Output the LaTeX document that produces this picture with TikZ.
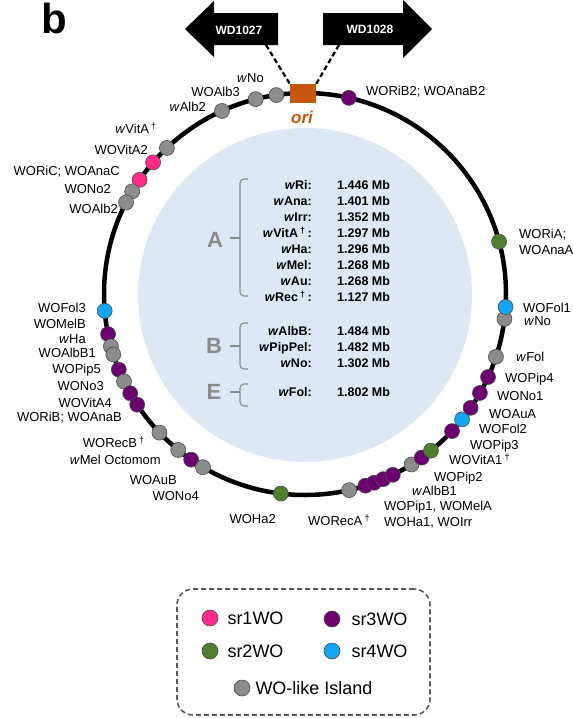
\documentclass[tikz,border=0pt]{standalone}
\usepackage{fontspec}
\setmainfont{Liberation Sans}
\usetikzlibrary{positioning}
\definecolor{sr1}{HTML}{FF2A8C}
\definecolor{sr2}{HTML}{4F7F2E}
\definecolor{sr3}{HTML}{6B006E}
\definecolor{sr4}{HTML}{14A5F5}
\definecolor{island}{HTML}{8C8C8C}
\definecolor{ori-orange}{HTML}{C8570E}
\definecolor{disc-blue}{HTML}{DEE8F4}
\definecolor{clade-gray}{HTML}{8A8A8A}
\newcommand{\wsp}{\textit{w}}
\tikzset{
    genome/.style = {draw=black, line width=4.5pt},
    wo-dot/.style = {circle, draw=black!70, line width=0.6pt, inner sep=0pt, minimum size=15pt},
    sr1-dot/.style = {wo-dot, fill=sr1},
    sr2-dot/.style = {wo-dot, fill=sr2},
    sr3-dot/.style = {wo-dot, fill=sr3},
    sr4-dot/.style = {wo-dot, fill=sr4},
    island-dot/.style = {wo-dot, fill=island},
    site-label/.style = {font=\fontsize{13}{16}\selectfont, inner sep=1pt, text height=9.3pt, text depth=0pt},
    site-left/.style = {site-label, anchor=east},
    site-right/.style = {site-label, anchor=west, align=left},
    size-name/.style = {font=\fontsize{12.5}{15}\selectfont\bfseries, inner sep=1pt, text height=9pt, text depth=0pt, anchor=east},
    size-value/.style = {size-name, anchor=west},
    clade-letter/.style = {font=\fontsize{22}{24}\selectfont\bfseries, text=clade-gray, inner sep=0pt},
    clade-brace/.style = {draw=clade-gray, line width=1.1pt, rounded corners=4pt},
    gene-label/.style = {font=\fontsize{12}{14}\selectfont\bfseries, text=white, inner sep=0pt},
    ori-link/.style = {draw=black, line width=2.2pt, dash pattern=on 5pt off 3pt},
    legend-box/.style = {draw=black!65, line width=1.6pt, dash pattern=on 5pt off 3pt, rounded corners=16pt, minimum width=253pt, minimum height=126pt},
    legend-dot/.style = {wo-dot, minimum size=16pt},
    legend-label/.style = {font=\fontsize{18}{20}\selectfont, inner sep=1pt},
}

\begin{document}
\begin{tikzpicture}[x=1pt, y=-1pt]
\path[use as bounding box, fill=white] (0,0) rectangle (573,718);
\node[font=\fontsize{42}{42}\selectfont\bfseries, inner sep=0pt, anchor=base west] (panel) at (41,33) {b};

% genome ring
\coordinate (c) at (305,294);
\fill[disc-blue] (305,295) circle [radius=167];
\draw[genome] (c) circle [radius=201];

% gene arrows and origin
\fill (278,13) -- (214,13) -- (214,1) -- (185,29) -- (214,57) -- (214,45) -- (278,45) -- cycle;
\fill (323,13) -- (403,13) -- (403,0) -- (432,29) -- (403,58) -- (403,45) -- (323,45) -- cycle;
\node[gene-label] (wd1027) at (239,30) {WD1027};
\node[gene-label] (wd1028) at (370,29) {WD1028};
\node[fill=ori-orange, minimum width=26pt, minimum height=19pt, inner sep=0pt] (ori) at (303,93.5) {};
\node[font=\fontsize{17}{18}\selectfont\bfseries\itshape, text=ori-orange, inner sep=0pt] (ori-label) at (302,117) {ori};
\coordinate (wd1027-foot) at (266,45);
\coordinate (wd1028-foot) at (339,45);
\draw[ori-link] (wd1027-foot) -- (ori.north west);
\draw[ori-link] (wd1028-foot) -- (ori.north east);

% WO sites
\node[sr3-dot] (woribb2) at ([shift={(-77.4:201)}]c) {};
\node[island-dot] (wno-a) at ([shift={(-98.2:201)}]c) {};
\node[island-dot] (woalb3) at ([shift={(-104.2:201)}]c) {};
\node[island-dot] (walb2) at ([shift={(-114.4:201)}]c) {};
\node[island-dot] (wvita) at ([shift={(-133.4:201)}]c) {};
\node[sr1-dot] (wovita2) at ([shift={(-139.1:201)}]c) {};
\node[sr1-dot] (woric) at ([shift={(-145.4:201)}]c) {};
\node[island-dot] (wono2) at ([shift={(-149.3:201)}]c) {};
\node[island-dot] (woalb2) at ([shift={(-152.9:201)}]c) {};
\node[sr4-dot] (wofol3) at ([shift={(175.2:201)}]c) {};
\node[sr3-dot] (womelb) at ([shift={(168.5:201)}]c) {};
\node[island-dot] (wha) at ([shift={(164.9:201)}]c) {};
\node[island-dot] (woalbb1) at ([shift={(162.5:201)}]c) {};
\node[sr3-dot] (wopip5) at ([shift={(157.9:201)}]c) {};
\node[island-dot] (wono3) at ([shift={(154.2:201)}]c) {};
\node[sr3-dot] (wovita4) at ([shift={(150.4:201)}]c) {};
\node[sr3-dot] (worib) at ([shift={(146.6:201)}]c) {};
\node[island-dot] (worecb) at ([shift={(136.4:201)}]c) {};
\node[island-dot] (wmel-oct) at ([shift={(129.1:201)}]c) {};
\node[sr3-dot] (woaub) at ([shift={(124.5:201)}]c) {};
\node[island-dot] (wono4) at ([shift={(120.5:201)}]c) {};
\node[sr2-dot] (woha2) at ([shift={(96.9:201)}]c) {};
\node[island-dot] (woreca) at ([shift={(77.3:201)}]c) {};
\node[sr3-dot] (woha1) at ([shift={(72.5:201)}]c) {};
\node[sr3-dot] (woirr) at ([shift={(69.9:201)}]c) {};
\node[sr3-dot] (wopip1) at ([shift={(67.1:201)}]c) {};
\node[sr3-dot] (womela) at ([shift={(64.1:201)}]c) {};
\node[island-dot] (walbb1) at ([shift={(58.0:201)}]c) {};
\node[sr3-dot] (wopip2) at ([shift={(54.5:201)}]c) {};
\node[sr2-dot] (wovita1) at ([shift={(51.2:201)}]c) {};
\node[sr3-dot] (wopip3) at ([shift={(43.0:201)}]c) {};
\node[sr4-dot] (wofol2) at ([shift={(38.6:201)}]c) {};
\node[sr3-dot] (woaua) at ([shift={(34.5:201)}]c) {};
\node[sr3-dot] (wono1) at ([shift={(29.5:201)}]c) {};
\node[sr3-dot] (wopip4) at ([shift={(24.4:201)}]c) {};
\node[island-dot] (wfol) at ([shift={(18.2:201)}]c) {};
\node[island-dot] (wno-b) at ([shift={(7.1:201)}]c) {};
\node[sr4-dot] (wofol1) at ([shift={(3.7:201)}]c) {};
\node[sr2-dot] (woria) at ([shift={(-15.1:201)}]c) {};

% site labels
\node[site-left] (l-wno-a) at (265,78) {\wsp No};
\node[site-left] (l-woalb3) at (241,92) {WOAlb3};
\node[site-left] (l-walb2) at (207,107) {\wsp Alb2};
\node[site-left] (l-wvita) at (158,129) {\wsp VitA\,\textsuperscript{†}};
\node[site-left] (l-wovita2) at (149,150) {WOVitA2};
\node[site-left] (l-woric) at (121,171) {WORiC; WOAnaC};
\node[site-left] (l-wono2) at (112,189) {WONo2};
\node[site-left] (l-woalb2) at (119,209) {WOAlb2};
\node[site-left] (l-wofol3) at (87,308) {WOFol3};
\node[site-left] (l-womelb) at (87,324) {WOMelB};
\node[site-left] (l-wha) at (87,339) {\wsp Ha};
\node[site-left] (l-woalbb1) at (97,353) {WOAlbB1};
\node[site-left] (l-wopip5) at (102,369) {WOPip5};
\node[site-left] (l-wono3) at (105,386) {WONo3};
\node[site-left] (l-wovita4) at (113,403) {WOVitA4};
\node[site-left] (l-worib) at (123,417) {WORiB; WOAnaB};
\node[site-left] (l-worecb) at (146,443) {WORecB\,\textsuperscript{†}};
\node[site-left] (l-wmel-oct) at (162,460) {\wsp Mel Octomom};
\node[site-left] (l-woaub) at (178,480) {WOAuB};
\node[site-left] (l-wono4) at (200,496) {WONo4};
\node[site-left] (l-woha2) at (277,519) {WOHa2};
\node[site-right] (l-woreca) at (307,521) {WORecA\,\textsuperscript{†}};
\node[site-right] (l-woribb2) at (365,91) {WORiB2; WOAnaB2};
\node[site-right, text height=, text depth=] (l-woria) at (518,242) {WORiA;\\WOAnaA};
\node[site-right] (l-wofol1) at (522,308) {WOFol1};
\node[site-right] (l-wno-b) at (523,321) {\wsp No};
\node[site-right] (l-wfol) at (515,357) {\wsp Fol};
\node[site-right] (l-wopip4) at (504,378) {WOPip4};
\node[site-right] (l-wono1) at (496,396) {WONo1};
\node[site-right] (l-woaua) at (488,414) {WOAuA};
\node[site-right] (l-wofol2) at (478,429) {WOFol2};
\node[site-right] (l-wopip3) at (469,445) {WOPip3};
\node[site-right] (l-wovita1) at (448,460) {WOVitA1\,\textsuperscript{†}};
\node[site-right] (l-wopip2) at (433,477) {WOPip2};
\node[site-right] (l-walbb1) at (411,491) {\wsp AlbB1};
\node[site-right] (l-wopip1) at (383,506) {WOPip1, WOMelA};
\node[site-right] (l-woha1) at (383,522) {WOHa1, WOIrr};

% genome sizes
\node[size-name] (n-ri) at (313,185) {\wsp Ri:};
\node[size-value] (v-ri) at (336,185) {1.446 Mb};
\node[size-name] (n-ana) at (313,201) {\wsp Ana:};
\node[size-value] (v-ana) at (336,201) {1.401 Mb};
\node[size-name] (n-irr) at (313,217) {\wsp Irr:};
\node[size-value] (v-irr) at (336,217) {1.352 Mb};
\node[size-name] (n-vita) at (313,233) {\wsp VitA\,\textsuperscript{†}\,:};
\node[size-value] (v-vita) at (336,233) {1.297 Mb};
\node[size-name] (n-ha) at (313,249) {\wsp Ha:};
\node[size-value] (v-ha) at (336,249) {1.296 Mb};
\node[size-name] (n-mel) at (313,265) {\wsp Mel:};
\node[size-value] (v-mel) at (336,265) {1.268 Mb};
\node[size-name] (n-au) at (313,281) {\wsp Au:};
\node[size-value] (v-au) at (336,281) {1.268 Mb};
\node[size-name] (n-rec) at (313,297) {\wsp Rec\,\textsuperscript{†}\,:};
\node[size-value] (v-rec) at (336,297) {1.127 Mb};
\node[size-name] (n-albb) at (313,331) {\wsp AlbB:};
\node[size-value] (v-albb) at (336,331) {1.484 Mb};
\node[size-name] (n-pippel) at (313,347) {\wsp PipPel:};
\node[size-value] (v-pippel) at (336,347) {1.482 Mb};
\node[size-name] (n-no) at (313,363) {\wsp No:};
\node[size-value] (v-no) at (336,363) {1.302 Mb};
\node[size-name] (n-fol) at (313,392) {\wsp Fol:};
\node[size-value] (v-fol) at (336,392) {1.802 Mb};

\node[clade-letter] (clade-a) at (215,240) {A};
\node[clade-letter] (clade-b) at (214,346) {B};
\node[clade-letter] (clade-e) at (214,392) {E};
\draw[clade-brace] (248,179) -- (240,179) -- (240,296) -- (248,296);
\draw[clade-brace] (248,323) -- (240,323) -- (240,369) -- (248,369);
\draw[clade-brace] (248,384) -- (240,384) -- (240,406) -- (248,406);
\draw[draw=clade-gray, line width=1.1pt] (230,238) -- (240,238);
\draw[draw=clade-gray, line width=1.1pt] (230,346) -- (240,346);
\draw[draw=clade-gray, line width=1.1pt] (230,392) -- (240,392);

% legend
\node[legend-box] (legend) at (303.5,652) {};
\node[legend-dot, fill=sr1] (lg-sr1) at (210,618) {};
\node[legend-label, right=8pt of lg-sr1] (lg-sr1-text) {sr1WO};
\node[legend-dot, fill=sr3] (lg-sr3) at (332,619) {};
\node[legend-label, right=10pt of lg-sr3] (lg-sr3-text) {sr3WO};
\node[legend-dot, fill=sr2] (lg-sr2) at (210,651) {};
\node[legend-label, right=8pt of lg-sr2] (lg-sr2-text) {sr2WO};
\node[legend-dot, fill=sr4] (lg-sr4) at (332,651) {};
\node[legend-label, right=10pt of lg-sr4] (lg-sr4-text) {sr4WO};
\node[legend-dot, fill=island] (lg-island) at (242,688) {};
\node[legend-label, right=4pt of lg-island] (lg-island-text) {WO-like Island};
\end{tikzpicture}
\end{document}
